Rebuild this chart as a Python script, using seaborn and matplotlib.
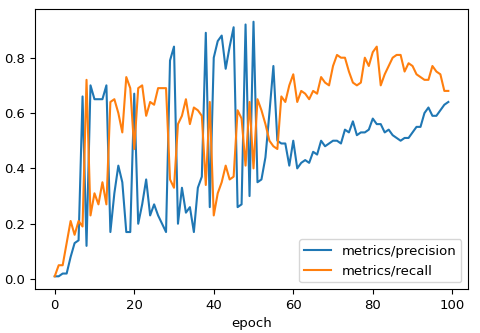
import numpy as np
import pandas as pd
import seaborn as sns
import matplotlib
matplotlib.use("Agg")
import matplotlib.pyplot as plt

# values (one per epoch)
epochs = list(range(100))

precision = [
    0.01, 0.01, 0.02, 0.02, 0.08, 0.13, 0.14, 0.66, 0.12, 0.70,
    0.65, 0.65, 0.65, 0.70, 0.17, 0.31, 0.41, 0.35, 0.17, 0.17,
    0.67, 0.20, 0.27, 0.36, 0.23, 0.27, 0.23, 0.20, 0.17, 0.79,
    0.84, 0.20, 0.33, 0.24, 0.26, 0.17, 0.33, 0.37, 0.89, 0.26,
    0.80, 0.86, 0.88, 0.76, 0.84, 0.91, 0.26, 0.27, 0.92, 0.30,
    0.93, 0.35, 0.36, 0.44, 0.60, 0.77, 0.50, 0.49, 0.49, 0.41,
    0.50, 0.40, 0.42, 0.43, 0.42, 0.46, 0.45, 0.50, 0.48, 0.49,
    0.50, 0.50, 0.49, 0.54, 0.53, 0.57, 0.52, 0.53, 0.53, 0.54,
    0.58, 0.56, 0.56, 0.53, 0.54, 0.52, 0.51, 0.50, 0.51, 0.51,
    0.53, 0.55, 0.55, 0.60, 0.62, 0.59, 0.59, 0.61, 0.63, 0.64,
]

recall = [
    0.01, 0.05, 0.05, 0.13, 0.21, 0.16, 0.21, 0.19, 0.72, 0.23,
    0.31, 0.27, 0.35, 0.27, 0.64, 0.65, 0.60, 0.53, 0.73, 0.69,
    0.47, 0.69, 0.70, 0.59, 0.64, 0.63, 0.69, 0.69, 0.69, 0.36,
    0.33, 0.56, 0.59, 0.65, 0.56, 0.62, 0.61, 0.59, 0.34, 0.64,
    0.23, 0.31, 0.35, 0.41, 0.36, 0.37, 0.61, 0.58, 0.41, 0.64,
    0.40, 0.65, 0.61, 0.56, 0.50, 0.48, 0.47, 0.66, 0.64, 0.70,
    0.74, 0.64, 0.68, 0.67, 0.65, 0.68, 0.67, 0.73, 0.71, 0.70,
    0.77, 0.81, 0.80, 0.80, 0.75, 0.71, 0.70, 0.71, 0.80, 0.77,
    0.82, 0.84, 0.70, 0.74, 0.77, 0.80, 0.81, 0.81, 0.75, 0.78,
    0.77, 0.74, 0.73, 0.72, 0.72, 0.77, 0.75, 0.74, 0.68, 0.68,
]

df = pd.DataFrame({'epoch': epochs,
                   'metrics/precision': precision,
                   'metrics/recall': recall})

plt.rcParams['font.size'] = 9.5

fig, ax = plt.subplots(figsize=(4.8, 3.33), dpi=100)
fig.subplots_adjust(left=0.073, right=0.975, top=0.973, bottom=0.132)

sns.lineplot(data=df, x='epoch', y='metrics/precision', ax=ax,
             label='metrics/precision', color='#1f77b4', linewidth=1.5)
sns.lineplot(data=df, x='epoch', y='metrics/recall', ax=ax,
             label='metrics/recall', color='#ff7f0e', linewidth=1.5)

ax.set_ylabel('')
ax.set_xlabel('epoch')
ax.set_xticks([0, 20, 40, 60, 80, 100])
ax.set_yticks([0.0, 0.2, 0.4, 0.6, 0.8])
ax.legend(loc='lower right')

fig.savefig('out.png', dpi=100)
